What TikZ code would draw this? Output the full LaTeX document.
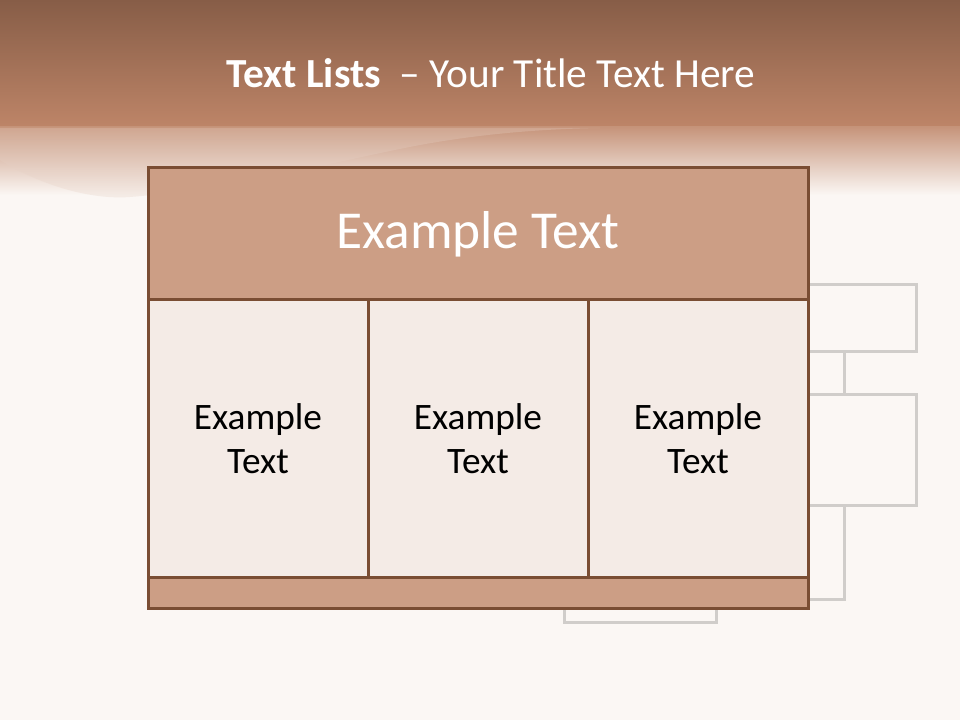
\documentclass[tikz,border=0pt]{standalone}
\usepackage{fontspec}
\setmainfont{Carlito}
\usepackage{xcolor}
\usepackage{tikz}
\usetikzlibrary{calc, positioning}

\definecolor{topbrown}{HTML}{875D47}
\definecolor{midbrown}{HTML}{BE8568}
\definecolor{paleband}{HTML}{E6D0C4}
\definecolor{cream}{HTML}{FBF7F4}
\definecolor{rim}{HTML}{7A4D33}
\definecolor{headtan}{HTML}{CC9E85}
\definecolor{cellfill}{HTML}{F4EBE6}
\definecolor{ghost}{HTML}{D0CDCA}

\tikzset{
  cell/.style={draw=rim, line width=2.25pt, fill=cellfill, inner sep=0pt, outer sep=0pt,
    align=center, font=\fontsize{28}{33}\selectfont},
  band/.style={cell, fill=headtan, text=white, font=\fontsize{40}{48}\selectfont},
  ghostbox/.style={draw=ghost, line width=2.25pt, inner sep=0pt, outer sep=0pt},
  ghostline/.style={draw=ghost, line width=2.25pt}
}

\begin{document}
\begin{tikzpicture}[x=0.75pt, y=-0.75pt]
            \useasboundingbox (0,0) rectangle (960,720);
            \fill[cream] (0,0) rectangle (960,720);
            \shade[top color=topbrown, bottom color=midbrown] (0,0) rectangle (960,128);
            \shade[top color=midbrown!80!paleband, middle color=paleband, bottom color=cream] (0,127) rectangle (960,195);
            \fill[paleband, opacity=0.3] (0,128) -- (0,160) .. controls (40,185) and (90,200) .. (130,197)
                .. controls (240,188) and (340,160) .. (420,145) .. controls (480,134) and (540,129) .. (600,128) -- cycle;
            
            \node[text=white, font=\fontsize{31}{37}\selectfont, anchor=base] (title) at (491,88)
                {{\bfseries Text Lists}\ \ -- Your Title Text Here};
            
            % grey boxes behind the table
            \node[ghostbox, minimum width=162pt, minimum height=49.5pt] (gbox1) at (808,318) {};
            \node[ghostbox, minimum width=162pt, minimum height=83.25pt] (gbox2) at (808,449.5) {};
            \node[ghostbox, minimum width=114pt, minimum height=46.5pt] (gbox3) at (640,591) {};
            \coordinate (lk) at (844,0);
            \coordinate (tailend) at (780,599);
            
            \draw[ghostline] (gbox1.south -| lk) -- (gbox2.north -| lk);
            \draw[ghostline] (gbox2.south -| lk) |- (tailend);
            
            % the table
            \node[band, minimum width=495pt, minimum height=99pt] (head) at (478,234) {Example Text};
            \node[cell, minimum width=165pt, minimum height=207.75pt] (colA) at (258,438.5) {Example\\Text};
            \node[cell, minimum width=165pt, minimum height=207.75pt] (colB) at (478,438.5) {Example\\Text};
            \node[cell, minimum width=165pt, minimum height=207.75pt] (colC) at (698,438.5) {Example\\Text};
            \node[band, minimum width=495pt, minimum height=23.25pt] (foot) at (478,592.5) {};
        \end{tikzpicture}
\end{document}
